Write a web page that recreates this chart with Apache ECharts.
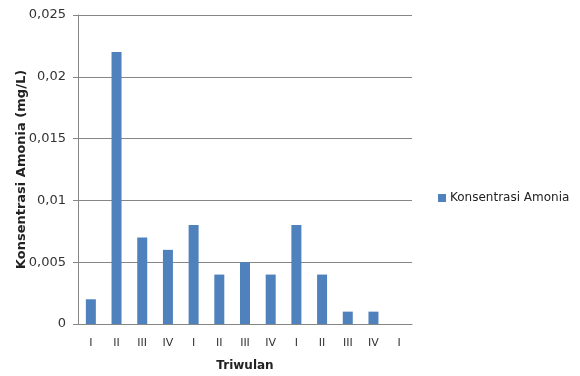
<!DOCTYPE html>
<html>
<head>
<meta charset="utf-8">
<script src="https://cdn.jsdelivr.net/npm/echarts@6/dist/echarts.min.js"></script>
<style>
  html, body { margin: 0; padding: 0; background: #fff; }
  #chart { width: 580px; height: 376px; }
</style>
</head>
<body>
<div id="chart"></div>
<script>
// Quarter labels along the x axis
const categories = ['I', 'II', 'III', 'IV', 'I', 'II', 'III', 'IV', 'I', 'II', 'III', 'IV', 'I'];
// Ammonia concentration per quarter (mg/L); last quarter has no reading
const amonia = [0.002, 0.022, 0.007, 0.006, 0.008, 0.004, 0.005, 0.004, 0.008, 0.004, 0.001, 0.001, null];
const seriesName = 'Konsentrasi Amonia';
const yTitle = 'Konsentrasi Amonia (mg/L)';
const xTitle = 'Triwulan';

const font = 'DejaVu Sans, sans-serif';
const chart = echarts.init(document.getElementById('chart'));
chart.setOption({
  animation: false,
  textStyle: { fontFamily: font },
  grid: { left: 78, right: 168, top: 15, bottom: 52, outerBoundsMode: 'none', containLabel: false },
  legend: {
    data: [seriesName],
    left: 433, top: 187,
    itemWidth: 8, itemHeight: 8, itemGap: 4,
    icon: 'rect',
    textStyle: { fontSize: 12, color: '#222', fontFamily: font, padding: [0, 0, 0, -1] }
  },
  xAxis: {
    type: 'category',
    data: categories,
    name: xTitle,
    nameLocation: 'middle',
    nameGap: 36,
    nameMoveOverlap: false,
    nameTextStyle: { fontSize: 12, fontWeight: 'bold', color: '#222', fontFamily: font },
    axisLine: { lineStyle: { color: '#868686' } },
    axisTick: { show: false },
    axisLabel: { fontSize: 11, color: '#333', margin: 14, interval: 0 }
  },
  yAxis: {
    type: 'value',
    min: 0, max: 0.025, interval: 0.005,
    name: yTitle,
    nameLocation: 'middle',
    nameGap: 50,
    nameMoveOverlap: false,
    nameTextStyle: { fontSize: 13, fontWeight: 'bold', color: '#222', fontFamily: font },
    axisLine: { show: true, lineStyle: { color: '#868686' } },
    axisTick: { show: true, length: 5, lineStyle: { color: '#868686' } },
    axisLabel: {
      fontSize: 13, color: '#333', margin: 12,
      formatter: v => v === 0 ? '0' : String(+v.toFixed(3)).replace('.', ',')
    },
    splitLine: { lineStyle: { color: '#868686' } }
  },
  series: [{
    name: seriesName,
    type: 'bar',
    data: amonia,
    barWidth: 10,
    itemStyle: { color: '#4F81BD' }
  }]
});
</script>
</body>
</html>
